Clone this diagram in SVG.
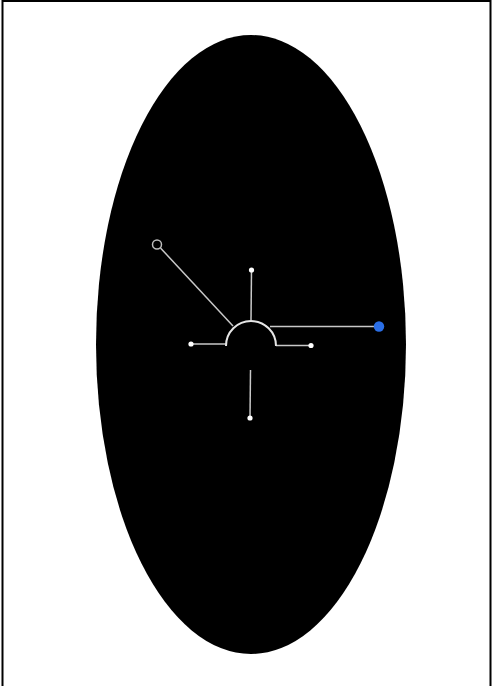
<svg xmlns="http://www.w3.org/2000/svg" width="492" height="686" viewBox="0 0 492 686">
<style>
.ln{stroke:#c8c8c8;stroke-width:1.5;fill:none}
.dot{fill:#ffffff}
</style>
<rect width="492" height="686" fill="#ffffff"/>
<path d="M2.5 686 V1 H490.5 V686" fill="none" stroke="#000" stroke-width="2"/>
<g id="body"><ellipse cx="251" cy="344.5" rx="155" ry="309.5" fill="#000"/></g>
<g id="connectors">
<line class="ln" x1="251" y1="320" x2="251.5" y2="270"/>
<line class="ln" x1="250.5" y1="370" x2="250" y2="418"/>
<line class="ln" x1="226" y1="344" x2="191" y2="344"/>
<line class="ln" x1="276" y1="345.5" x2="311" y2="345.5"/>
<line class="ln" x1="270" y1="326.5" x2="379" y2="326.5"/>
<line class="ln" x1="233" y1="326" x2="160.5" y2="248"/>
</g>
<g id="hub"><path d="M226 346 A25 25 0 0 1 276 346" fill="none" stroke="#e6e6e6" stroke-width="2"/></g>
<g id="n-top"><circle class="dot" cx="251.5" cy="270" r="2.6"/></g>
<g id="n-bottom"><circle class="dot" cx="250" cy="418" r="2.6"/></g>
<g id="n-left"><circle class="dot" cx="191" cy="344" r="2.6"/></g>
<g id="n-right"><circle class="dot" cx="311" cy="345.5" r="2.6"/></g>
<g id="n-blue"><circle cx="379" cy="326.5" r="5.2" fill="#2a6ee6"/></g>
<g id="n-ring"><circle cx="157" cy="244.5" r="4.5" fill="#000" stroke="#bdbdbd" stroke-width="1.5"/></g>
</svg>
